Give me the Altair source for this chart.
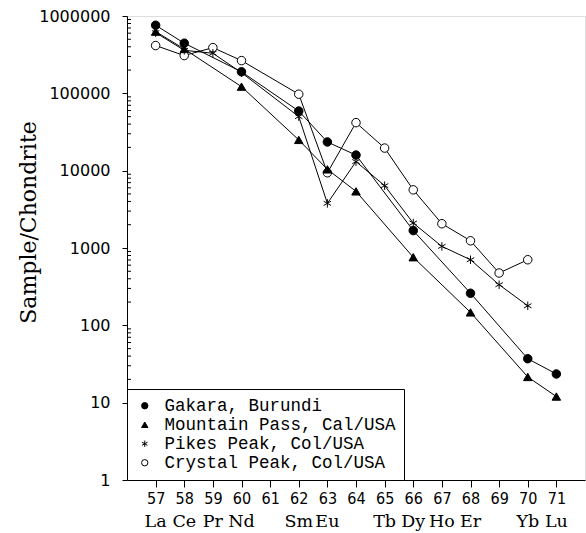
import altair as alt
import pandas as pd

# ---- data ----
series_names = ["Gakara, Burundi", "Mountain Pass, Cal/USA",
                "Pikes Peak, Col/USA", "Crystal Peak, Col/USA"]

gakara_z = [57, 58, 60, 62, 63, 64, 66, 68, 70, 71]
gakara_v = [760000, 445000, 190000, 59000, 23500, 15900, 1680, 260, 37, 23.5]

mp_z = [57, 58, 60, 62, 63, 64, 66, 68, 70, 71]
mp_v = [628000, 375000, 122000, 25000, 10400, 5400, 760, 147, 21.5, 12]

pikes_z = [57, 58, 59, 60, 62, 63, 64, 65, 66, 67, 68, 69, 70]
pikes_v = [610000, 360000, 330000, 185000, 50000, 3780, 13100, 6400, 2100, 1050, 705, 335, 179]

crystal_z = [57, 58, 59, 60, 62, 63, 64, 65, 66, 67, 68, 69, 70]
crystal_v = [415000, 308000, 390000, 265000, 97500, 9400, 41800, 19600, 5650, 2060, 1240, 475, 705]

x_tick_values = list(range(57, 72))
y_tick_values = [1, 10, 100, 1000, 10000, 100000, 1000000]
element_z = [57, 58, 59, 60, 62, 63, 65, 66, 67, 68, 70, 71]
element_names = ["La", "Ce", "Pr", "Nd", "Sm", "Eu", "Tb", "Dy", "Ho", "Er", "Yb", "Lu"]

minor_ticks = [m * 10 ** d for d in range(6) for m in range(2, 10)]

# ---- tables ----
rows = []
for name, zs, vs in [(series_names[3], crystal_z, crystal_v),
                     (series_names[2], pikes_z, pikes_v),
                     (series_names[1], mp_z, mp_v),
                     (series_names[0], gakara_z, gakara_v)]:
    for z, v in zip(zs, vs):
        rows.append({"series": name, "z": z, "v": v})
df = pd.DataFrame(rows)
df["ord"] = range(len(df))

elements = pd.DataFrame({"z": element_z, "name": element_names})
minor = pd.DataFrame({"v": minor_ticks})

asterisk = "M0,-1L0,1M-0.87,-0.5L0.87,0.5M-0.87,0.5L0.87,-0.5"
tick_path = "M0,0L1,0"

xscale = alt.Scale(domain=[56, 72], nice=False, zero=False)
yscale = alt.Scale(type="log", domain=[1, 1000000], nice=False)

x_axis = alt.Axis(values=x_tick_values, format="d", title=None,
                  tickSize=7, labelPadding=3, labelOverlap=False,
                  labelFont="DejaVu Sans Condensed, Liberation Sans Narrow, DejaVu Sans",
                  labelFontSize=16, labelColor="black",
                  domainColor="black", tickColor="black", grid=False)
y_axis = alt.Axis(values=y_tick_values, format="d",
                  title="Sample/Chondrite", labelOverlap=False,
                  titleFont="DejaVu Serif", titleFontSize=22,
                  titleFontWeight="normal", titleColor="black",
                  titleAngle=-90, titleAlign="center", titleBaseline="middle",
                  titleX=-99, titleY=206,
                  tickSize=5, labelPadding=12,
                  labelFont="DejaVu Sans", labelFontSize=16,
                  labelColor="black", domainColor="black",
                  tickColor="black", grid=False)

x_enc = alt.X("z:Q", scale=xscale, axis=x_axis)
y_enc = alt.Y("v:Q", scale=yscale, axis=y_axis)

legend = alt.Legend(title=None, orient="bottom-left", offset=0, padding=8,
                    strokeColor="black", fillColor="white", cornerRadius=0,
                    labelFont="Liberation Mono", labelFontSize=17.5, labelColor="black",
                    labelLimit=500,
                    symbolSize=40, symbolStrokeColor="black", symbolStrokeWidth=1,
                    symbolOffset=1, labelOffset=11, rowPadding=0)

lines = alt.Chart(df).mark_line(color="black", strokeWidth=1).encode(
    x=x_enc, y=y_enc, detail="series:N")

points = alt.Chart(df).mark_point(strokeWidth=1, opacity=1,
                                  fillOpacity=1, strokeOpacity=1, size=72).encode(
    x=x_enc,
    y=y_enc,
    shape=alt.Shape("series:N",
                    scale=alt.Scale(domain=series_names,
                                    range=["circle", "triangle-up", asterisk, "circle"]),
                    legend=legend),
    fill=alt.Fill("series:N",
                  scale=alt.Scale(domain=series_names,
                                  range=["black", "black", "black", "white"]),
                  legend=legend),
    stroke=alt.Stroke("series:N",
                      scale=alt.Scale(domain=series_names,
                                      range=["black", "black", "black", "black"]),
                      legend=legend),
    order=alt.Order("ord:Q"),
)

# minor (inward) ticks of the log axis
ticks = alt.Chart(minor).mark_point(shape=tick_path, size=64, stroke="black",
                                    strokeWidth=1, filled=False, opacity=1).encode(
    y=y_enc, x=alt.value(0))

labels = alt.Chart(elements).mark_text(font="DejaVu Serif", fontSize=17.5,
                                       baseline="middle", align="center",
                                       color="black").encode(
    x=x_enc, y=alt.value(506), text="name:N")

chart = alt.layer(lines, points, ticks, labels).properties(
    width=458, height=464,
    padding={"left": 127, "top": 16, "right": 1, "bottom": 53},
    autosize=alt.AutoSizeParams(type="none"),
).configure_view(stroke="black", strokeWidth=1).configure(background="white")

chart.save("out.html", embed_options={"renderer": "svg", "actions": False})
